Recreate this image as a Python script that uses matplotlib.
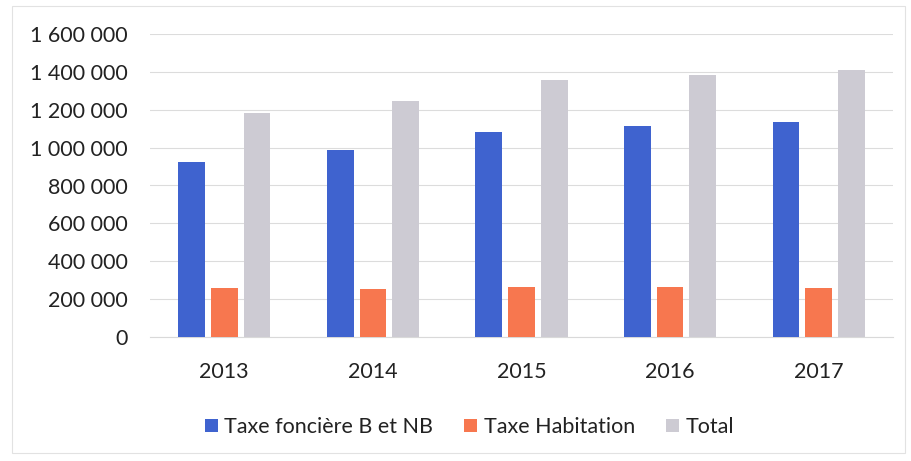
import matplotlib.pyplot as plt
import matplotlib.patches as mpatches
import matplotlib.ticker as mticker
import numpy as np

years = ["2013", "2014", "2015", "2016", "2017"]
fonciere = [925000, 990000, 1085000, 1115000, 1135000]
habitation = [258000, 252000, 266000, 262000, 258000]
total = [1185000, 1248000, 1358000, 1385000, 1410000]
series_names = ["Taxe foncière B et NB", "Taxe Habitation", "Total"]

plt.rcParams["font.family"] = ["Lato", "DejaVu Sans"]

fig = plt.figure(figsize=(9.11, 4.61), dpi=100)
ax = fig.add_axes([150 / 911, 1 - 337 / 461, 743 / 911, 303 / 461])

x = np.arange(len(years))
w = 0.18
off = 0.22
colors = ["#3f63cf", "#f7774f", "#cdcbd3"]
for vals, dx, c, name in zip([fonciere, habitation, total], [-off, 0, off], colors, series_names):
    ax.bar(x + dx, vals, width=w, color=c, label=name, zorder=3)

ax.set_xlim(-0.5, len(years) - 0.5)
ax.set_ylim(0, 1600000)
ax.yaxis.set_major_locator(mticker.MultipleLocator(200000))
ax.yaxis.set_major_formatter(mticker.FuncFormatter(lambda v, p: f"{int(v):,}".replace(",", " ")))
ax.set_xticks(x)
ax.set_xticklabels(years)
ax.grid(axis="y", color="#dcdcdc", linewidth=0.8, zorder=0)
for s in ["top", "right", "left"]:
    ax.spines[s].set_visible(False)
ax.spines["bottom"].set_color("#d9d9d9")
ax.tick_params(axis="both", length=0, labelsize=15.5, colors="#222222")
ax.tick_params(axis="y", pad=16)
ax.tick_params(axis="x", pad=18)

ax.legend(loc="upper center", bbox_to_anchor=(0.43, -0.2), ncol=3, frameon=False,
          fontsize=15.5, handlelength=0.6, handleheight=0.6, handletextpad=0.3,
          columnspacing=1.45, labelcolor="#222222")

fig.patches.append(mpatches.Rectangle((12 / 911, 8 / 461), 893 / 911, 447 / 461,
                                      transform=fig.transFigure, fill=False,
                                      edgecolor="#e2e2e2", linewidth=0.8))

fig.savefig("out.png", dpi=100)
